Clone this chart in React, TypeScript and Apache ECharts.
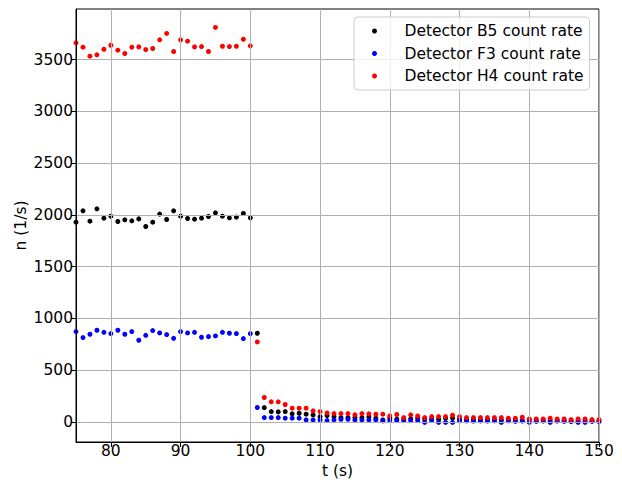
import React, { useEffect, useRef } from "react";
import * as echarts from "echarts";

const times = [
  75, 76, 77, 78, 79, 80, 81, 82, 83, 84, 85, 86, 87, 88, 89, 90, 91, 92, 93, 94,
  95, 96, 97, 98, 99, 100, 101, 102, 103, 104, 105, 106, 107, 108, 109, 110, 111,
  112, 113, 114, 115, 116, 117, 118, 119, 120, 121, 122, 123, 124, 125, 126, 127,
  128, 129, 130, 131, 132, 133, 134, 135, 136, 137, 138, 139, 140, 141, 142, 143,
  144, 145, 146, 147, 148, 149, 150,
];

const detectorB5 = [
  1930, 2040, 1940, 2059, 1969, 1988, 1937, 1953, 1943, 1962, 1888, 1930, 2008, 1956,
  2040, 1988, 1966, 1959, 1969, 1985, 2020, 1988, 1972, 1979, 2014, 1972, 857, 138,
  100, 97, 100, 78, 84, 75, 68, 52, 61, 52, 42, 42, 42, 42, 52, 36, 19, 36, 26, 26,
  30, 36, 26, 28, 26, 36, 38, 26, 22, 22, 20, 22, 20, 18, 18, 18, 15, 18, 15, 15, 15,
  15, 12, 12, 12, 12, 10, 10,
];

const detectorF3 = [
  873, 815, 847, 886, 866, 854, 886, 847, 873, 789, 837, 883, 860, 844, 808, 873, 860,
  866, 818, 824, 831, 866, 857, 854, 805, 854, 139, 42, 42, 42, 36, 36, 36, 19, 19, 19,
  13, 19, 26, 26, 19, 19, 19, 19, 10, 13, 13, 13, 13, 13, -5, 13, -5, -5, -5, 10, 10,
  8, 10, 8, 10, -5, 10, 5, 8, -5, 5, 8, -5, 8, 5, 3, -5, -5, 5, 3,
];

const detectorH4 = [
  3663, 3621, 3534, 3547, 3601, 3640, 3592, 3560, 3621, 3624, 3598, 3608, 3692, 3754,
  3579, 3692, 3679, 3624, 3627, 3579, 3812, 3630, 3627, 3630, 3698, 3634, 773, 236,
  194, 194, 168, 133, 133, 133, 107, 100, 87, 81, 81, 81, 68, 81, 78, 75, 75, 58, 72,
  42, 68, 58, 42, 52, 52, 52, 65, 52, 42, 42, 42, 42, 42, 42, 36, 36, 45, 29, 29, 29,
  36, 29, 29, 23, 29, 29, 23, 23,
];

const xTicks = [80, 90, 100, 110, 120, 130, 140, 150];
const yTicks = [0, 500, 1000, 1500, 2000, 2500, 3000, 3500];

const FONT = "DejaVu Sans";

export default function App() {
  const ref = useRef<HTMLDivElement>(null);

  useEffect(() => {
    const chart = echarts.init(ref.current!, null, { renderer: "svg" });
    const mk = (name: string, vals: number[], color: string) => ({
      name,
      type: "scatter",
      data: times.map((t, i) => [t, vals[i]]),
      symbol: "circle",
      symbolSize: 5,
      itemStyle: { color, opacity: 1 },
      clip: true,
    });
    const labelStyle = { fontFamily: FONT, fontSize: 15.5, color: "#000" };
    chart.setOption({
      animation: false,
      backgroundColor: "#fff",
      grid: {
        left: 76,
        right: 23,
        top: 9,
        bottom: 40,
        containLabel: false,
        outerBoundsMode: "none",
        show: true,
        borderColor: "#000",
        borderWidth: 1,
        backgroundColor: "transparent",
      },
      legend: {
        orient: "vertical",
        left: 354,
        top: 17,
        padding: [6, 6, 6, 18],
        itemGap: 6.5,
        itemWidth: 20,
        itemHeight: 5,
        icon: "circle",
        borderColor: "#cccccc",
        borderWidth: 1,
        borderRadius: 4,
        backgroundColor: "rgba(255,255,255,0.8)",
        textStyle: {
          fontFamily: FONT,
          fontSize: 15.5,
          color: "#000",
          lineHeight: 16,
          padding: [0, 0, 0, 15],
        },
        data: [
          "Detector B5 count rate",
          "Detector F3 count rate",
          "Detector H4 count rate",
        ],
      },
      xAxis: {
        type: "value",
        min: 75,
        max: 150,
        z: 3,
        name: "t (s)",
        nameLocation: "middle",
        nameGap: 21,
        nameMoveOverlap: false,
        nameTextStyle: labelStyle,
        axisLine: { show: true, onZero: false, lineStyle: { color: "#000", width: 1 } },
        axisTick: {
          show: true,
          inside: false,
          length: 5,
          customValues: xTicks,
          lineStyle: { color: "#000", width: 1 },
        },
        axisLabel: {
          ...labelStyle,
          margin: 1,
          customValues: xTicks,
          formatter: (v: number) => String(v),
        },
        splitLine: { show: true, lineStyle: { color: "#b0b0b0", width: 1 } },
      },
      yAxis: {
        type: "value",
        min: -194,
        max: 3990,
        z: 3,
        name: "n (1/s)",
        nameLocation: "middle",
        nameGap: 47,
        nameMoveOverlap: false,
        nameTextStyle: labelStyle,
        axisLine: { show: true, onZero: false, lineStyle: { color: "#000", width: 1 } },
        axisTick: {
          show: true,
          inside: false,
          length: 5,
          customValues: yTicks,
          lineStyle: { color: "#000", width: 1 },
        },
        axisLabel: {
          ...labelStyle,
          margin: 3,
          customValues: yTicks,
          formatter: (v: number) => String(v),
        },
        splitLine: { show: true, lineStyle: { color: "#b0b0b0", width: 1 } },
      },
      series: [
        mk("Detector B5 count rate", detectorB5, "#000000"),
        mk("Detector F3 count rate", detectorF3, "#0000ff"),
        mk("Detector H4 count rate", detectorH4, "#ff0000"),
      ],
    });
    return () => chart.dispose();
  }, []);

  return (
    <div
      ref={ref}
      style={{ position: "fixed", left: 0, top: 0, width: 622, height: 482, background: "#fff" }}
    />
  );
}
